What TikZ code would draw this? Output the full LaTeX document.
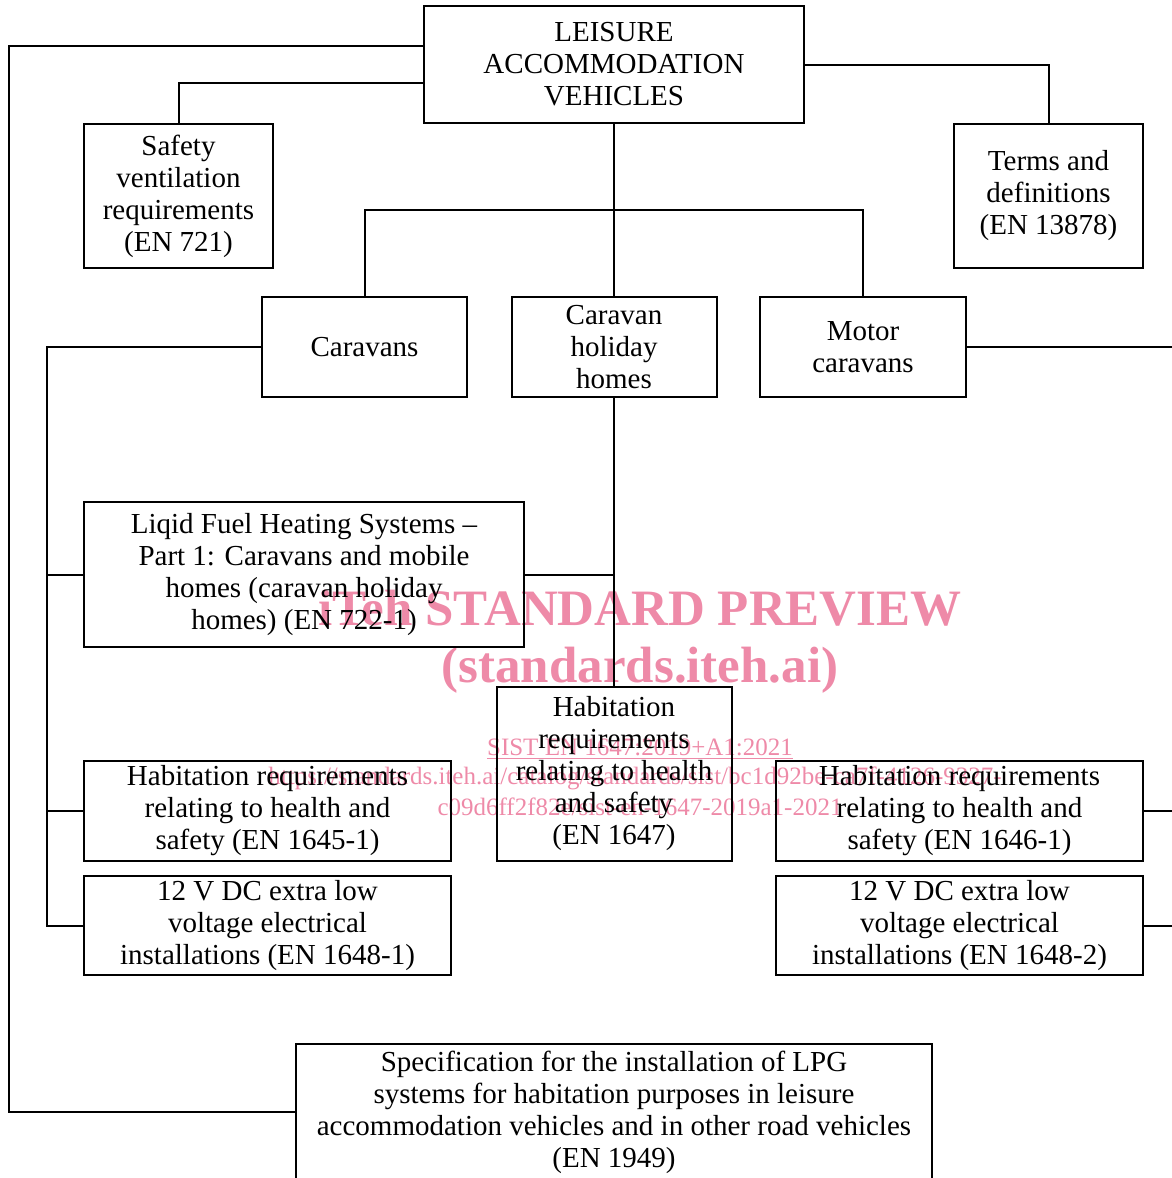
\documentclass[tikz,border=0pt]{standalone}
\usepackage{fontspec}
\setmainfont{Liberation Serif}
\definecolor{wm}{HTML}{EE8AA8}
\begin{document}
\begin{tikzpicture}[x=0.5pt,y=-0.5pt,
  box/.style={draw, line width=1pt, align=center, inner sep=0pt,
    font=\fontsize{14.5}{16}\selectfont},
  conn/.style={line width=1pt},
  wmbig/.style={text=wm, anchor=base, inner sep=0pt,
    font=\bfseries\fontsize{25.5}{28}\selectfont},
  wmsmall/.style={text=wm, anchor=base, inner sep=0pt,
    font=\fontsize{12.5}{14}\selectfont}]
\useasboundingbox (0,0) rectangle (1172,1178);

% watermark
\node[wmbig] (wm1) at (640,625) {iTeh STANDARD PREVIEW};
\node[wmbig] (wm2) at (640,682) {(standards.iteh.ai)};
\node[wmsmall] (wm3) at (640,755) {\underline{SIST EN 1647:2019+A1:2021}};
\node[wmsmall] (wm4) at (635,784) {https://standards.iteh.ai/catalog/standards/sist/bc1d92be-ca7f-4126-9327-};
\node[wmsmall] (wm5) at (640,815) {c09d6ff2f82e/sist-en-1647-2019a1-2021};

% boxes
\node[box, minimum width=190pt, minimum height=58.5pt] (lav) at (614,64.5)
  {LEISURE\\ACCOMMODATION\\VEHICLES};
\node[box, minimum width=94.5pt, minimum height=72pt] (safety) at (178.5,196)
  {Safety\\ventilation\\requirements\\(EN 721)};
\node[box, minimum width=94.5pt, minimum height=72pt] (terms) at (1048.5,196)
  {Terms and\\definitions\\(EN 13878)};
\node[box, minimum width=102.5pt, minimum height=50pt] (caravans) at (364.5,347)
  {Caravans};
\node[box, minimum width=102.5pt, minimum height=50pt] (chh) at (614,347)
  {Caravan\\holiday\\homes};
\node[box, minimum width=103pt, minimum height=50pt] (motor) at (863,347)
  {Motor\\caravans};
\node[box, minimum width=220pt, minimum height=72.5pt] (liqid) at (304,574.5)
  {Liqid Fuel Heating Systems –\\Part 1: Caravans and mobile\\homes (caravan holiday\\homes) (EN 722-1)};
\node[box, minimum width=117.5pt, minimum height=87pt] (hab47) at (614,774)
  {Habitation\\requirements\\relating to health\\and safety\\(EN 1647)};
\node[box, minimum width=183.5pt, minimum height=50pt] (hab45) at (267.5,811)
  {Habitation requirements\\relating to health and\\safety (EN 1645-1)};
\node[box, minimum width=183.5pt, minimum height=49.5pt] (v1) at (267.5,925.5)
  {12 V DC extra low\\voltage electrical\\installations (EN 1648-1)};
\node[box, minimum width=183.5pt, minimum height=50pt] (hab46) at (959.5,811)
  {Habitation requirements\\relating to health and\\safety (EN 1646-1)};
\node[box, minimum width=183.5pt, minimum height=49.5pt] (v2) at (959.5,925.5)
  {12 V DC extra low\\voltage electrical\\installations (EN 1648-2)};
\node[box, minimum width=318pt, minimum height=68pt] (lpg) at (614,1112)
  {Specification for the installation of LPG\\systems for habitation purposes in leisure\\accommodation vehicles and in other road vehicles\\(EN 1949)};

% connectors
\coordinate (j) at (614,210);
\draw[conn] (lav.west |- 0,46) -- (9,46) -- (9,1112) -- (lpg.west);
\draw[conn] (lav.west |- 0,83) -| (safety.north);
\draw[conn] (lav.east) -| (terms.north);
\draw[conn] (lav.south) -- (chh.north);
\draw[conn] (caravans.north) |- (j) -| (motor.north);
\draw[conn] (caravans.west) -- (47,347) -- (47,925.5) -- (v1.west);
\draw[conn] (liqid.west) -- (liqid.west -| 47,0);
\draw[conn] (hab45.west) -- (hab45.west -| 47,0);
\draw[conn] (chh.south) -- (hab47.north);
\draw[conn] (liqid.east) -- (liqid.east -| chh.south);
\draw[conn] (motor.east) -- (1190,347) -- (1190,925.5) -- (v2.east);
\draw[conn] (hab46.east) -- (hab46.east -| 1190,0);
\end{tikzpicture}
\end{document}
